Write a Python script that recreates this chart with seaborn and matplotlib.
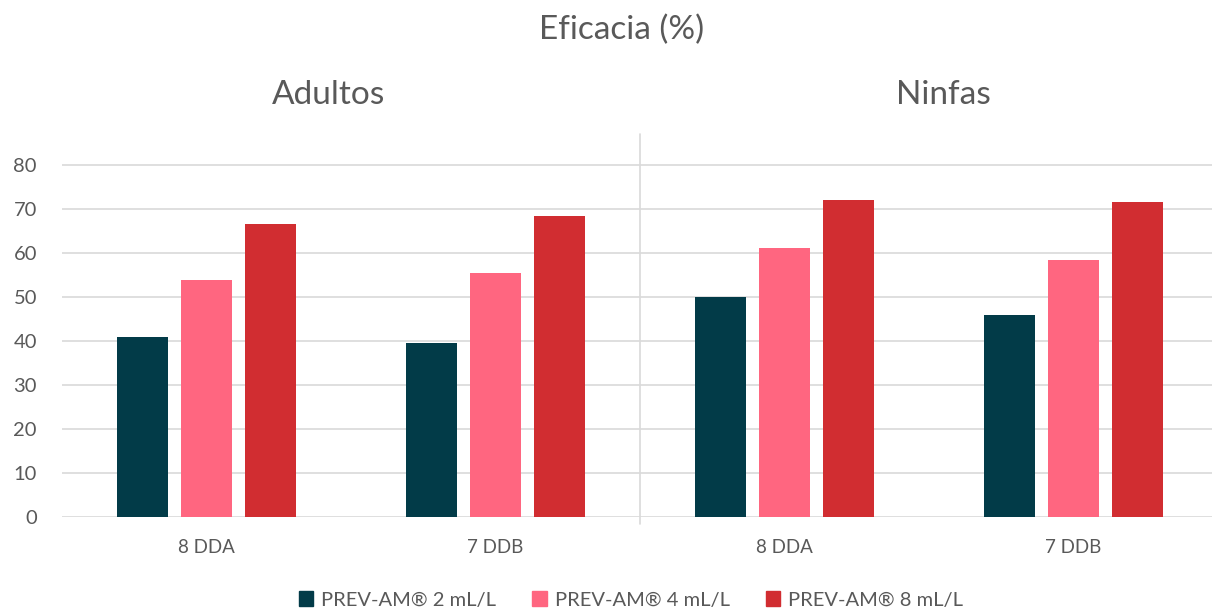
import numpy as np
import pandas as pd
import matplotlib.pyplot as plt
import seaborn as sns

# Datos
stages = ['Adultos', 'Adultos', 'Ninfas', 'Ninfas']
timings = ['8 DDA', '7 DDB', '8 DDA', '7 DDB']
doses = ['PREV-AM® 2 mL/L', 'PREV-AM® 4 mL/L', 'PREV-AM® 8 mL/L']
dose_2 = [40.8, 39.5, 49.9, 45.8]
dose_4 = [53.9, 55.4, 61.1, 58.4]
dose_8 = [66.6, 68.4, 72.0, 71.6]
colors = ['#023B48', '#FF6680', '#D12D31']

keys = [s + ' ' + t for s, t in zip(stages, timings)]
rows = []
for dose, vals in zip(doses, [dose_2, dose_4, dose_8]):
    for k, v in zip(keys, vals):
        rows.append({'grupo': k, 'dosis': dose, 'eficacia': v})
df = pd.DataFrame(rows)

sns.set_style('white')
plt.rcParams['font.family'] = ['Lato', 'DejaVu Sans']
txt = '#595959'
grid = '#D9D9D9'

W, H = 1212, 613
fig = plt.figure(figsize=(W / 100, H / 100), dpi=100)
ax = fig.add_axes([62 / W, (H - 516.7) / H, (1218 - 62) / W, (516.7 - 134) / H])

sns.barplot(data=df, x='grupo', y='eficacia', hue='dosis', order=keys,
            hue_order=doses, palette=colors, width=0.664, gap=0.2,
            linewidth=0, saturation=1, ax=ax)

ax.set_ylim(0, 87)
ax.set_yticks(range(0, 81, 10))
ax.set_xlim(-0.5, 3.5)
ax.set_xticks(range(len(keys)))
ax.set_xticklabels(timings)
ax.set_xlabel('')
ax.set_ylabel('')
ax.yaxis.grid(True, color=grid, linewidth=1.2)
ax.set_axisbelow(True)
for sp in ax.spines.values():
    sp.set_visible(False)
ax.tick_params(axis='y', length=0, pad=18, labelsize=14.5, labelcolor=txt)
ax.tick_params(axis='x', length=0, pad=16, labelsize=13.5, labelcolor=txt)

# separador entre Adultos y Ninfas
ax.axvline(1.5, ymin=-0.018, ymax=1, color=grid, linewidth=1.2, clip_on=False)

ax.get_legend().remove()
handles = [plt.Rectangle((0, 0), 1, 1, color=c) for c in colors]
fig.legend(handles, doses, loc='center', bbox_to_anchor=(631 / W, 1 - 600 / H),
           ncol=3, frameon=False, fontsize=14.5, labelcolor=txt,
           handlelength=0.7, handleheight=0.7, handletextpad=0.4,
           columnspacing=1.8)

fig.text(622 / W, 1 - 30 / H, 'Eficacia (%)', ha='center', va='center',
         fontsize=24, color=txt)
fig.text(329 / W, 1 - 95 / H, 'Adultos', ha='center', va='center',
         fontsize=24, color=txt)
fig.text(943 / W, 1 - 95 / H, 'Ninfas', ha='center', va='center',
         fontsize=24, color=txt)

fig.savefig('out.png', dpi=100)
